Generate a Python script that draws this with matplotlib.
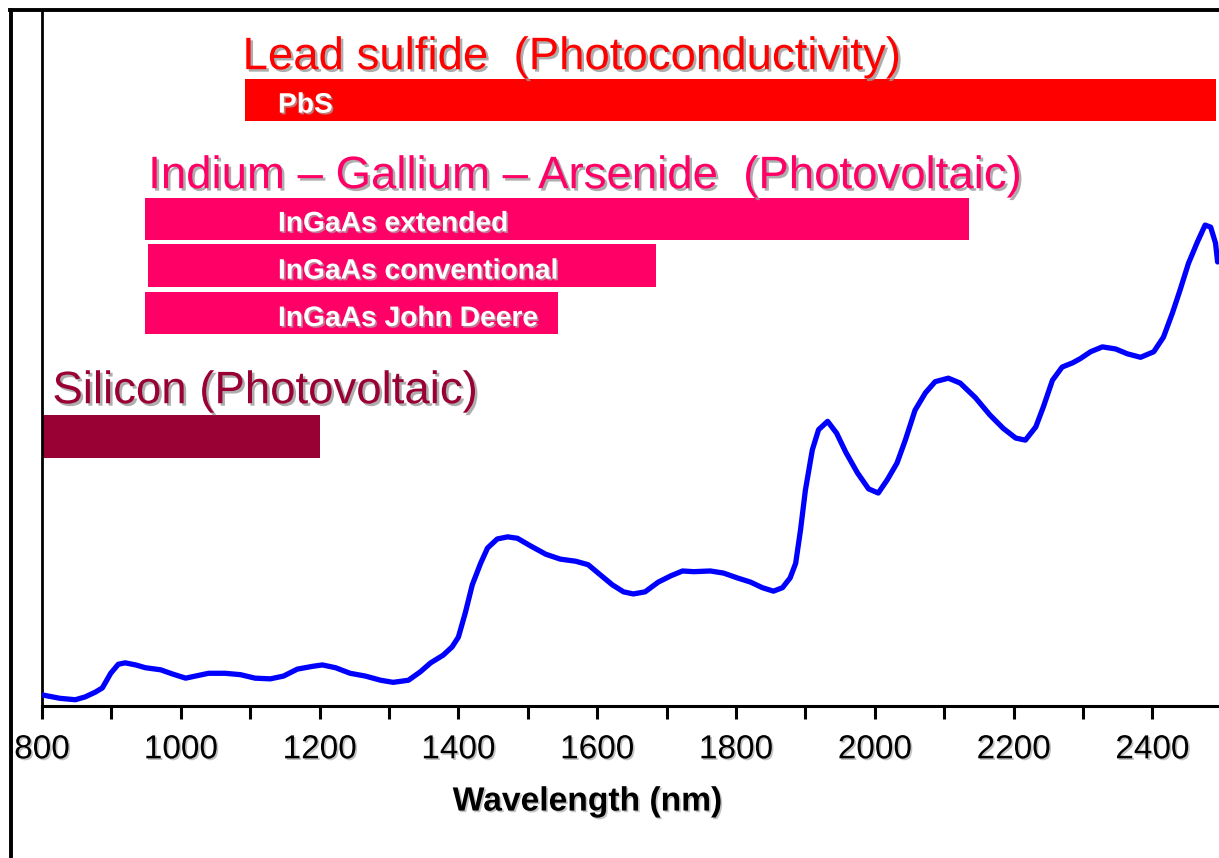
import numpy as np
import matplotlib
matplotlib.use("Agg")
import matplotlib.pyplot as plt
import matplotlib.patheffects as pe
from matplotlib.lines import Line2D

plt.rcParams['font.family'] = ['Liberation Sans', 'DejaVu Sans']

# spectrum (arbitrary absorbance units)
wavelength = [800, 826, 848, 862, 877, 887, 899, 910, 920, 935, 949, 971, 988,
              1007, 1021, 1040, 1064, 1086, 1107, 1129, 1148, 1168, 1190, 1204,
              1223, 1244, 1266, 1288, 1306, 1328, 1345, 1360, 1378, 1391, 1400,
              1410, 1420, 1432, 1442, 1456, 1471, 1485, 1504, 1526, 1547, 1569,
              1587, 1605, 1622, 1638, 1652, 1669, 1688, 1706, 1723, 1739, 1763,
              1782, 1802, 1821, 1838, 1854, 1867, 1878, 1886, 1893, 1900, 1910,
              1919, 1932, 1945, 1958, 1975, 1991, 2005, 2018, 2032, 2044, 2058,
              2073, 2087, 2106, 2123, 2145, 2166, 2185, 2203, 2217, 2232, 2243,
              2256, 2270, 2285, 2296, 2311, 2328, 2347, 2364, 2383, 2402, 2416,
              2429, 2440, 2452, 2465, 2476, 2484, 2491, 2494]
absorbance = [1.6, 1.1, 0.9, 1.3, 2.0, 2.6, 4.7, 6.0, 6.2, 5.9, 5.5, 5.2, 4.6,
              4.0, 4.3, 4.7, 4.7, 4.5, 4.0, 3.9, 4.3, 5.3, 5.7, 5.9,
              5.5, 4.7, 4.3, 3.7, 3.4, 3.7, 4.9, 6.2, 7.3, 8.5, 9.9,
              13.4, 17.4, 20.5, 22.7, 24.0, 24.3, 24.1, 23.0, 21.8, 21.1, 20.8,
              20.3, 18.8, 17.4, 16.4, 16.1, 16.4, 17.8, 18.7, 19.4, 19.3, 19.4,
              19.1, 18.4, 17.8, 17.0, 16.5, 17.0, 18.4, 20.5, 25.3, 31.0, 36.8,
              39.7, 40.9, 39.2, 36.5, 33.5, 31.2, 30.6, 32.5, 34.9, 38.2, 42.5,
              45.0, 46.6, 47.1, 46.4, 44.3, 41.8, 39.9, 38.5, 38.2, 40.1, 43.0,
              46.8, 48.7, 49.3, 49.9, 50.9, 51.6, 51.3, 50.6, 50.1, 50.9, 53.0,
              56.5, 59.8, 63.6, 66.7, 69.1, 68.8, 66.5, 63.8]

# detector ranges (nm)
detectors = ['PbS', 'InGaAs extended', 'InGaAs conventional', 'InGaAs John Deere', '']
range_start = [1093, 948, 953, 948, 800]
range_end = [2492, 2136, 1685, 1543, 1201]
families = ['Lead sulfide  (Photoconductivity)',
            'Indium \u2013 Gallium \u2013 Arsenide  (Photovoltaic)',
            'Silicon (Photovoltaic)']

RED = '#FF0000'
PINK = '#FF0066'
WINE = '#990033'
bar_colors = [RED, PINK, PINK, PINK, WINE]
bar_bottom = [84.05, 67.0, 60.2, 53.4, 35.6]
bar_height = [6.05, 6.0, 6.2, 6.1, 6.2]

shadow = [pe.SimplePatchShadow(offset=(1.8, -1.8), shadow_rgbFace='#999999', alpha=0.8), pe.Normal()]
shadow_small = [pe.SimplePatchShadow(offset=(1.2, -1.2), shadow_rgbFace='#aaaaaa', alpha=0.7), pe.Normal()]

fig = plt.figure(figsize=(12.19, 8.58), dpi=100)
ax = fig.add_axes([42 / 1219, 152 / 858, 1177 / 1219, 696 / 858])

ax.plot(wavelength, absorbance, color='#0000FF', lw=3.8, solid_capstyle='round',
        solid_joinstyle='round', zorder=3)

for name, s, e, c, b, h in zip(detectors, range_start, range_end, bar_colors, bar_bottom, bar_height):
    ax.barh(b, e - s, left=s, height=h, align='edge', color=c, zorder=2)
    if name:
        ax.text(1140, b + 1.2, name, color='white', fontsize=20.3, fontweight='bold',
                va='baseline', ha='left', path_effects=shadow_small, zorder=4)

ax.text(1089, 91.5, families[0], color=RED, fontsize=32.8, va='baseline', path_effects=shadow)
ax.text(953, 74.4, families[1], color=PINK, fontsize=32.8, va='baseline', path_effects=shadow)
ax.text(815, 43.5, families[2], color=WINE, fontsize=32.8, va='baseline', path_effects=shadow)

ax.set_xlim(800, 2496)
ax.set_ylim(0, 100)
ticks = list(range(800, 2500, 100))
ax.set_xticks(ticks)
ax.set_xticklabels([str(t) if t % 200 == 0 else '' for t in ticks])
ax.tick_params(axis='x', direction='out', length=9.4, width=2.2, pad=11, labelsize=24)
ax.set_yticks([])
for lab in ax.get_xticklabels():
    lab.set_path_effects(shadow_small)

for side in ['top', 'right']:
    ax.spines[side].set_visible(False)
ax.spines['left'].set_linewidth(2.0)
ax.spines['bottom'].set_linewidth(2.2)

ax.text(0.4635, -0.138, 'Wavelength (nm)', transform=ax.transAxes, ha='center', va='center',
        fontsize=24.2, fontweight='bold', path_effects=shadow_small)

# outer frame (left and top edges only visible)
fig.add_artist(Line2D([11 / 1219, 11 / 1219], [0, 848 / 858], color='black', lw=2.8,
                      transform=fig.transFigure))
fig.add_artist(Line2D([10 / 1219, 1], [848 / 858, 848 / 858], color='black', lw=2.8,
                      transform=fig.transFigure))

fig.savefig('out.png', dpi=100)
